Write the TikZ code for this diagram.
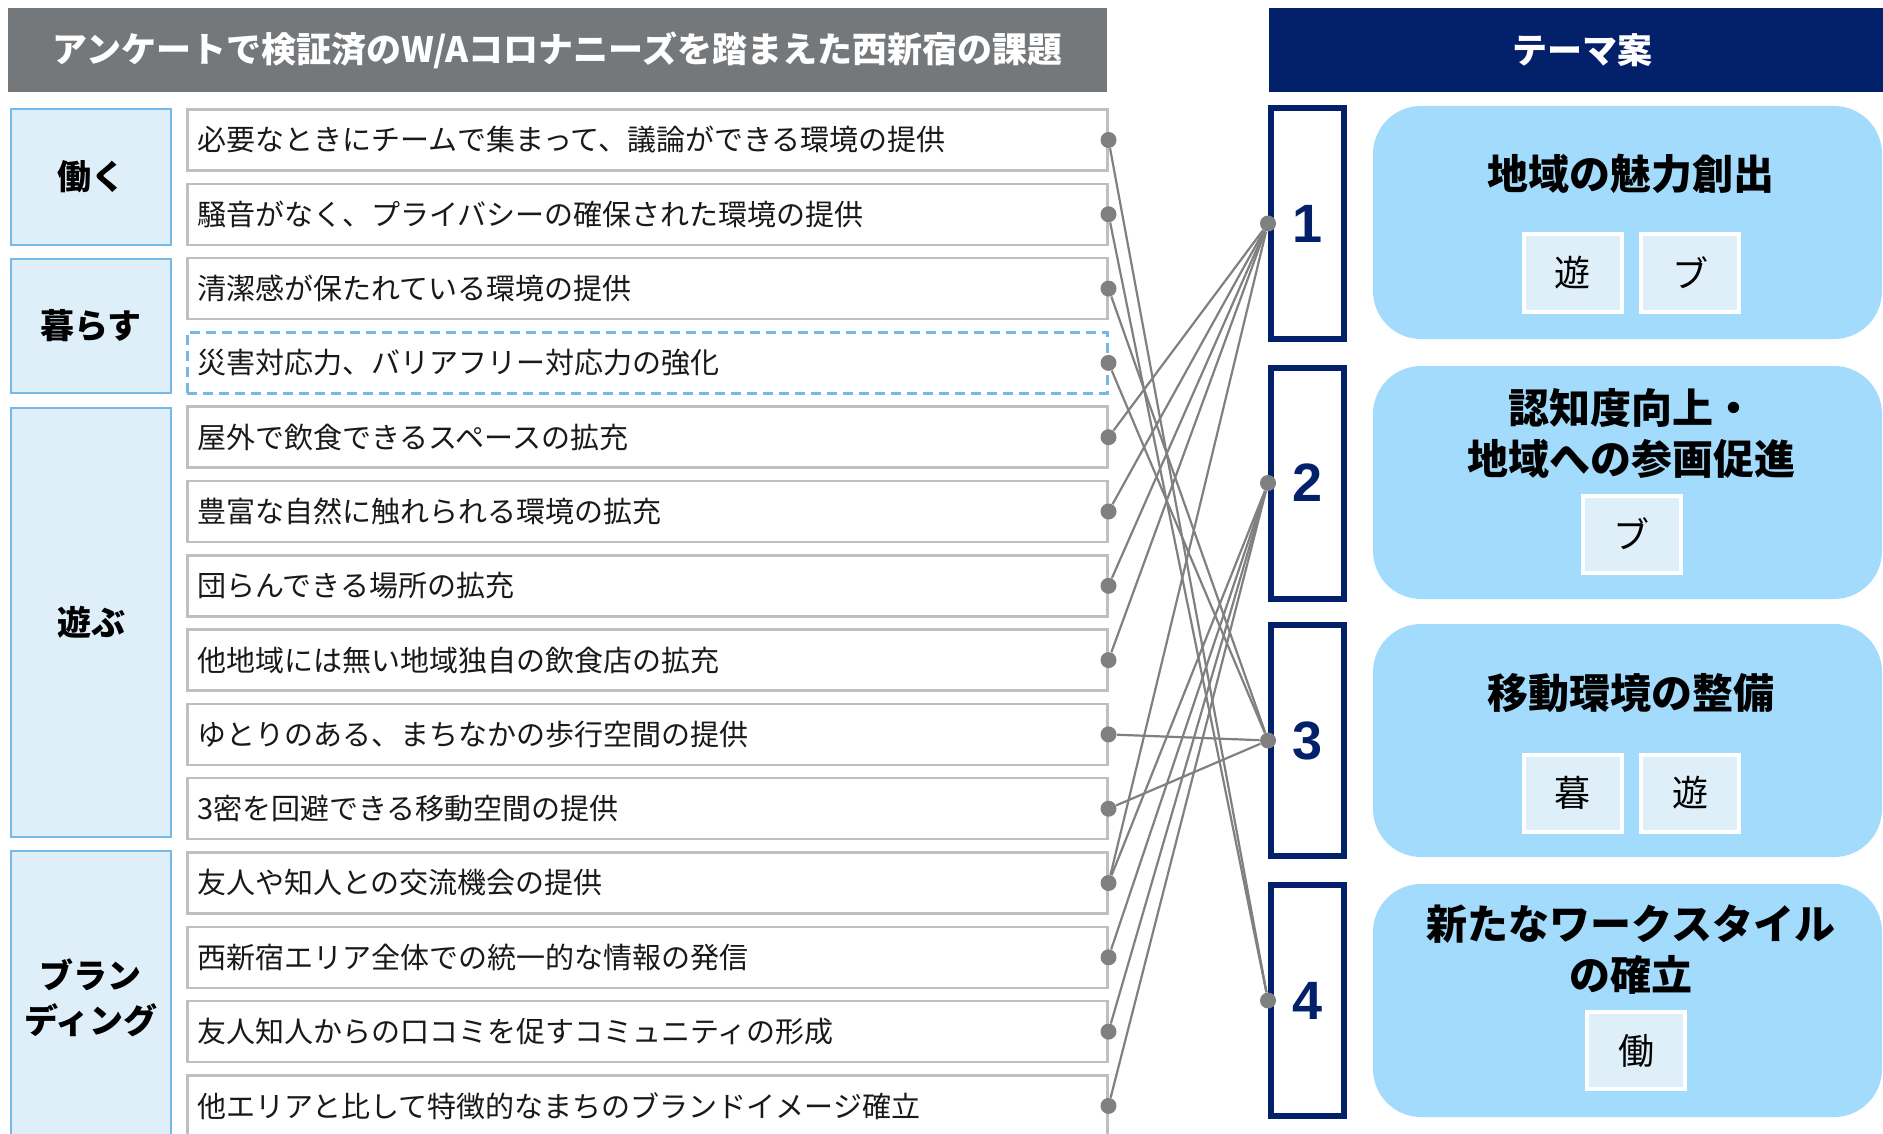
\documentclass[tikz,border=0pt]{standalone}
\usepackage{fontspec}
\setmainfont{Noto Sans CJK JP}
\newfontfamily\numfont{Liberation Sans}
\definecolor{hdrgray}{HTML}{75787B}
\definecolor{navy}{HTML}{03216A}
\definecolor{catfill}{HTML}{DEEFFA}
\definecolor{catline}{HTML}{74B9E8}
\definecolor{itemline}{HTML}{BFBFBF}
\definecolor{themefill}{HTML}{A3DBFC}
\definecolor{conngray}{HTML}{808080}
\begin{document}
\begin{tikzpicture}[x=0.5pt,y=-0.5pt,
  hdr/.style={minimum height=42pt, inner sep=0pt, text=white, font=\bfseries\fontsize{17.5pt}{20pt}\selectfont},
  catbox/.style={draw=catline, line width=1.25pt, fill=catfill, minimum width=80pt, inner sep=0pt, align=center, font=\bfseries\fontsize{17pt}{22.5pt}\selectfont},
  itembox/.style={draw=itemline, line width=1.25pt, fill=white, minimum height=30.5pt, text width=450pt, inner xsep=5pt, inner ysep=0pt, align=left, anchor=west, text=black!90, font=\fontsize{14.5pt}{17pt}\selectfont},
  dashitem/.style={itembox, draw=catline, dash pattern=on 5pt off 3pt},
  cdot/.style={circle, fill=conngray, inner sep=0pt, minimum size=8pt},
  conn/.style={draw=conngray, line width=1.1pt},
  numbox/.style={draw=navy, line width=3pt, fill=white, minimum width=36.5pt, minimum height=115.5pt, inner sep=0pt, text=navy, font=\numfont\bfseries\fontsize{27pt}{27pt}\selectfont},
  themebox/.style={fill=themefill, rounded corners=24pt, minimum width=254.5pt, minimum height=116.5pt, inner sep=0pt},
  ttl/.style={align=center, inner sep=0pt, font=\bfseries\fontsize{20.5pt}{25.5pt}\selectfont},
  tagbox/.style={fill=catfill, draw=white, line width=2pt, minimum width=49pt, minimum height=38.5pt, inner sep=0pt, font=\fontsize{18pt}{18pt}\selectfont}
]
\useasboundingbox (0,0) rectangle (1883,1134);

% headers
\node[hdr, fill=hdrgray, minimum width=549.5pt] (hl) at (557.5,50) {アンケートで検証済のW/Aコロナニーズを踏まえた西新宿の課題};
\node[hdr, fill=navy, minimum width=307pt] (hr) at (1576,50) {};
\node[hdr] (hrt) at (1582,50) {テーマ案};

% categories
\node[catbox, minimum height=68pt] (c1) at (91,177) {働く};
\node[catbox, minimum height=67pt] (c2) at (91,326) {暮らす};
\node[catbox, minimum height=214.5pt] (c3) at (91,622.5) {遊ぶ};
\node[catbox, minimum height=147pt] (c4) at (91,998) {ブラン\\ディング};

% items
\node[itembox] (i1) at (186,140) {必要なときにチームで集まって、議論ができる環境の提供};
\node[itembox] (i2) at (186,214.3) {騒音がなく、プライバシーの確保された環境の提供};
\node[itembox] (i3) at (186,288.6) {清潔感が保たれている環境の提供};
\node[dashitem] (i4) at (186,362.9) {災害対応力、バリアフリー対応力の強化};
\node[itembox] (i5) at (186,437.2) {屋外で飲食できるスペースの拡充};
\node[itembox] (i6) at (186,511.5) {豊富な自然に触れられる環境の拡充};
\node[itembox] (i7) at (186,585.8) {団らんできる場所の拡充};
\node[itembox] (i8) at (186,660.1) {他地域には無い地域独自の飲食店の拡充};
\node[itembox] (i9) at (186,734.4) {ゆとりのある、まちなかの歩行空間の提供};
\node[itembox] (i10) at (186,808.7) {3密を回避できる移動空間の提供};
\node[itembox] (i11) at (186,883) {友人や知人との交流機会の提供};
\node[itembox] (i12) at (186,957.3) {西新宿エリア全体での統一的な情報の発信};
\node[itembox] (i13) at (186,1031.6) {友人知人からの口コミを促すコミュニティの形成};
\node[itembox] (i14) at (186,1105.9) {他エリアと比して特徴的なまちのブランドイメージ確立};

% number boxes
\node[numbox] (t1) at (1307.5,223.5) {1};
\node[numbox] (t2) at (1307.5,483) {2};
\node[numbox] (t3) at (1307.5,740.5) {3};
\node[numbox] (t4) at (1307.5,1000.5) {4};

% theme boxes
\node[themebox] (b1) at (1627.5,222.5) {};
\node[themebox] (b2) at (1627.5,482.5) {};
\node[themebox] (b3) at (1627.5,740.5) {};
\node[themebox] (b4) at (1627.5,1000.5) {};

\node[ttl] (h1) at (1631,174) {地域の魅力創出};
\node[ttl] (h2) at (1631,433.5) {認知度向上・\\地域への参画促進};
\node[ttl] (h3) at (1631,693) {移動環境の整備};
\node[ttl] (h4) at (1631,950) {新たなワークスタイル\\の確立};

\node[tagbox] (g1a) at (1572.5,273) {遊};
\node[tagbox] (g1b) at (1690,273) {ブ};
\node[tagbox] (g2a) at (1631.5,534) {ブ};
\node[tagbox] (g3a) at (1572.5,793) {暮};
\node[tagbox] (g3b) at (1690,793) {遊};
\node[tagbox] (g4a) at (1636,1050.5) {働};

% dots
\foreach \k in {1,...,14} {\node[cdot] (p\k) at (i\k.east) {};}
\foreach \k in {1,...,4} {\node[cdot] (q\k) at (t\k.west) {};}

% connectors
\foreach \k in {5,6,7,8,11} {\draw[conn] (p\k) -- (q1);}
\foreach \k in {11,12,13,14} {\draw[conn] (p\k) -- (q2);}
\foreach \k in {3,4,9,10} {\draw[conn] (p\k) -- (q3);}
\foreach \k in {1,2} {\draw[conn] (p\k) -- (q4);}
\end{tikzpicture}
\end{document}
